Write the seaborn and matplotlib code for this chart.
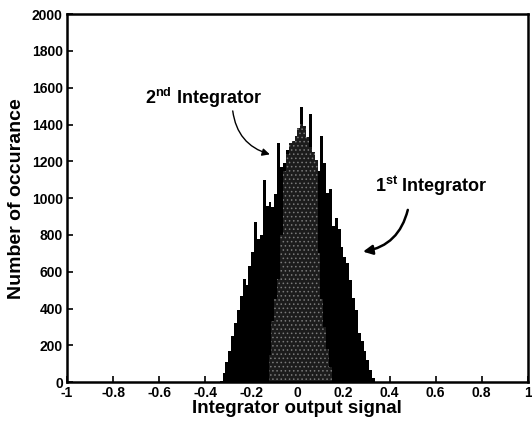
import numpy as np
import pandas as pd
import matplotlib
matplotlib.use("Agg")
import matplotlib.pyplot as plt
import seaborn as sns

sns.set_style("ticks")
plt.rcParams['font.family'] = ['Liberation Sans', 'DejaVu Sans']
plt.rcParams['font.weight'] = 'bold'
plt.rcParams['mathtext.fontset'] = 'custom'
plt.rcParams['mathtext.rm'] = 'Liberation Sans:bold'
plt.rcParams['mathtext.it'] = 'Liberation Sans:bold'
plt.rcParams['mathtext.bf'] = 'Liberation Sans:bold'
plt.rcParams['hatch.linewidth'] = 0.6
for key in ['text.color', 'axes.labelcolor', 'xtick.color', 'ytick.color', 'axes.edgecolor']:
    plt.rcParams[key] = 'black'

# ---- data ----
bin_width = 0.0125
first_centers = [-0.33125, -0.31875, -0.30625, -0.29375, -0.28125, -0.26875, -0.25625,
                 -0.24375, -0.23125, -0.21875, -0.20625, -0.19375, -0.18125, -0.16875,
                 -0.15625, -0.14375, -0.13125, -0.11875, -0.10625, -0.09375, -0.08125,
                 -0.06875, -0.05625, -0.04375, -0.03125, -0.01875, -0.00625,
                 0.00625, 0.01875, 0.03125, 0.04375, 0.05625, 0.06875, 0.08125,
                 0.09375, 0.10625, 0.11875, 0.13125, 0.14375, 0.15625, 0.16875,
                 0.18125, 0.19375, 0.20625, 0.21875, 0.23125, 0.24375, 0.25625,
                 0.26875, 0.28125, 0.29375, 0.30625, 0.31875, 0.33125]
first_counts = [8, 50, 110, 170, 250, 320, 390,
                470, 560, 530, 630, 710, 870, 780,
                800, 1100, 960, 980, 950, 1020, 1300,
                1170, 1190, 1260, 1180, 1290, 1300,
                1310, 1495, 1380, 1320, 1455, 1220, 1140,
                1150, 1340, 1190, 1030, 1050, 850, 890,
                835, 735, 680, 645, 555, 460, 390,
                270, 225, 170, 120, 65, 22]

second_centers = [-0.11875, -0.10625, -0.09375, -0.08125, -0.06875, -0.05625, -0.04375,
                  -0.03125, -0.01875, -0.00625, 0.00625, 0.01875, 0.03125, 0.04375,
                  0.05625, 0.06875, 0.08125, 0.09375, 0.10625, 0.11875, 0.13125, 0.14375]
second_counts = [150, 330, 450, 560, 800, 1150, 1240,
                 1300, 1310, 1340, 1380, 1405, 1390, 1330,
                 1280, 1250, 1210, 700, 450, 300, 180, 80]

x_ticks = [-1, -0.8, -0.6, -0.4, -0.2, 0, 0.2, 0.4, 0.6, 0.8, 1]
x_tick_labels = ["-1", "-0.8", "-0.6", "-0.4", "-0.2", "0", "0.2", "0.4", "0.6", "0.8", "1"]
y_ticks = [0, 200, 400, 600, 800, 1000, 1200, 1400, 1600, 1800, 2000]

df1 = pd.DataFrame({"x": first_centers, "n": first_counts})
df2 = pd.DataFrame({"x": second_centers, "n": second_counts})

range1 = (first_centers[0] - bin_width / 2, first_centers[-1] + bin_width / 2)
range2 = (second_centers[0] - bin_width / 2, second_centers[-1] + bin_width / 2)

fig = plt.figure(figsize=(5.32, 4.28), dpi=100)
ax = fig.add_axes([0.126, 0.107, 0.866, 0.86])

sns.histplot(data=df1, x="x", weights="n", binwidth=bin_width, binrange=range1,
             color="black", alpha=1, edgecolor="black", linewidth=0, ax=ax)
n_before = len(ax.patches)
sns.histplot(data=df2, x="x", weights="n", binwidth=bin_width, binrange=range2,
             color="#222222", alpha=1, edgecolor="#808080", linewidth=0, ax=ax)
for p in ax.patches[n_before:]:
    p.set_hatch("....")
    p.set_facecolor("#1c1c1c")
    p.set_edgecolor("#7a7a7a")
    p.set_linewidth(0)

ax.set_xlim(-1, 1)
ax.set_ylim(0, 2000)
ax.set_xticks(x_ticks)
ax.set_xticklabels(x_tick_labels)
ax.set_yticks(y_ticks)
ax.tick_params(direction="in", length=4, width=1.2, labelsize=10, pad=3)
for lab in ax.get_xticklabels() + ax.get_yticklabels():
    lab.set_fontweight("bold")
for s in ax.spines.values():
    s.set_visible(True)
    s.set_linewidth(1.8)
    s.set_color("black")

ax.set_xlabel("Integrator output signal", fontsize=13.5, fontweight="bold", labelpad=0)
ax.set_ylabel("Number of occurance", fontsize=14, fontweight="bold", labelpad=5)

ax.text(-0.41, 1545, r"$2^{nd}$ Integrator", ha="center", va="center",
        fontsize=13, fontweight="bold")
ax.annotate("", xy=(-0.108, 1234), xytext=(-0.282, 1489),
            arrowprops=dict(arrowstyle="-|>", color="black", lw=1.0,
                            mutation_scale=11, connectionstyle="arc3,rad=0.35"))

ax.text(0.58, 1065, r"$1^{st}$ Integrator", ha="center", va="center",
        fontsize=13, fontweight="bold")
ax.annotate("", xy=(0.273, 707), xytext=(0.482, 951),
            arrowprops=dict(arrowstyle="-|>", color="black", lw=1.8,
                            mutation_scale=14, connectionstyle="arc3,rad=-0.35"))

fig.savefig("out.png", dpi=100)
